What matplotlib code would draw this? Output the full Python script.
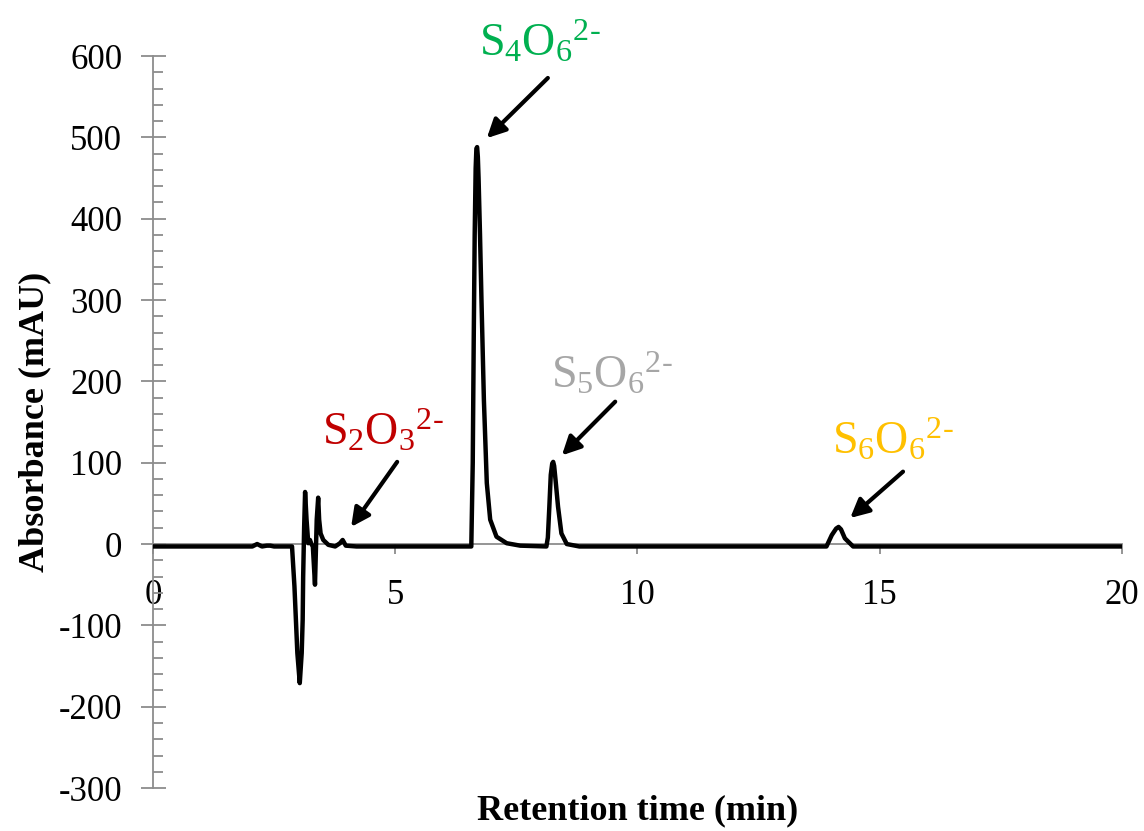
import matplotlib
matplotlib.use("Agg")
import matplotlib.pyplot as plt
from matplotlib.ticker import MultipleLocator

plt.rcParams['font.family'] = ['Liberation Serif', 'DejaVu Serif']
plt.rcParams['mathtext.fontset'] = 'custom'
plt.rcParams['mathtext.rm'] = 'Liberation Serif'
plt.rcParams['mathtext.it'] = 'Liberation Serif:italic'
plt.rcParams['mathtext.bf'] = 'Liberation Serif:bold'
plt.rcParams['axes.unicode_minus'] = False

# chromatogram trace (min, mAU)
trace_time = [0, 2.05, 2.15, 2.25, 2.35, 2.42, 2.50, 2.87, 2.92, 2.95, 2.98, 3.03,
              3.07, 3.09, 3.10, 3.12, 3.14, 3.17, 3.205, 3.24, 3.27, 3.30, 3.344,
              3.38, 3.41, 3.43, 3.46, 3.515, 3.62, 3.76, 3.86, 3.915, 3.98, 4.2,
              6.57, 6.60, 6.62, 6.64, 6.66, 6.675, 6.69, 6.705, 6.72, 6.75, 6.78,
              6.83, 6.89, 6.96, 7.09, 7.30, 7.58, 8.12, 8.15, 8.18, 8.21, 8.24,
              8.26, 8.28, 8.31, 8.36, 8.43, 8.54, 8.8, 13.90, 14.01, 14.10, 14.15,
              14.20, 14.28, 14.45, 20]
trace_abs = [-3, -3, 0, -3, -2, -2, -3, -3, -52, -93, -134, -171,
             -134, -93, -40, 20, 64, 30, 1, 5, 0, -3, -50,
             30, 57, 30, 13, 5, -1, -3, 1, 5, -2, -3,
             -3, 100, 250, 380, 462, 486, 488, 476, 450, 380, 300,
             177, 75, 30, 9, 1, -2, -3, 8, 45, 85, 99,
             101, 96, 78, 46, 13, 0, -3, -3, 11, 19, 21,
             18, 7, -3, -3]

# peak labels: text, colour, label position, arrow tail, arrow tip (data units)
ion_labels = [r'S$_2$O$_3$$^{2\text{-}}$', r'S$_4$O$_6$$^{2\text{-}}$',
              r'S$_5$O$_6$$^{2\text{-}}$', r'S$_6$O$_6$$^{2\text{-}}$']
ion_colors = ['#C00000', '#00B050', '#A6A6A6', '#FFC000']
label_pos = [(4.75, 138), (7.99, 617), (9.47, 209), (15.27, 128)]
arrow_tail = [(5.04, 101), (8.15, 573), (9.54, 175), (15.48, 89)]
arrow_tip = [(4.09, 21), (6.89, 499), (8.44, 109), (14.39, 32)]

fig = plt.figure(figsize=(11.44, 8.31), dpi=100)
ax = fig.add_axes([0.1337, 0.0517, 0.8471, 0.8809])

ax.plot(trace_time, trace_abs, color='black', lw=3.2, solid_joinstyle='round', zorder=3)

ax.set_xlim(0, 20)
ax.set_ylim(-300, 600)
ax.spines['top'].set_visible(False)
ax.spines['right'].set_visible(False)
ax.spines['left'].set_position(('data', 0))
ax.spines['bottom'].set_position(('data', 0))
for sp in ('left', 'bottom'):
    ax.spines[sp].set_color('#8C8C8C')
    ax.spines[sp].set_linewidth(1.3)

ax.xaxis.set_major_locator(MultipleLocator(5))
ax.yaxis.set_major_locator(MultipleLocator(100))
ax.yaxis.set_minor_locator(MultipleLocator(20))
ax.tick_params(axis='y', which='major', direction='inout', length=18, width=1.3,
               color='#8C8C8C', labelsize=25, pad=13)
ax.tick_params(axis='y', which='minor', direction='in', length=7, width=1.3, color='#8C8C8C')
ax.tick_params(axis='x', which='major', direction='out', length=7, width=1.3,
               color='#8C8C8C', labelsize=25, pad=18)

ax.set_xlabel('Retention time (min)', fontsize=26, fontweight='bold')
ax.set_ylabel('Absorbance (mAU)', fontsize=26, fontweight='bold')
ax.xaxis.set_label_coords(0.5, -0.008)
ax.yaxis.set_label_coords(-0.105, 0.5)

for txt, col, pos, tail, tip in zip(ion_labels, ion_colors, label_pos, arrow_tail, arrow_tip):
    ax.text(pos[0], pos[1], txt, color=col, fontsize=33, ha='center', va='center', clip_on=False)
    ax.annotate('', xy=tip, xytext=tail,
                arrowprops=dict(arrowstyle='-|>', color='black', lw=3, mutation_scale=28,
                                shrinkA=0, shrinkB=0))

fig.savefig('out.png', dpi=100)
